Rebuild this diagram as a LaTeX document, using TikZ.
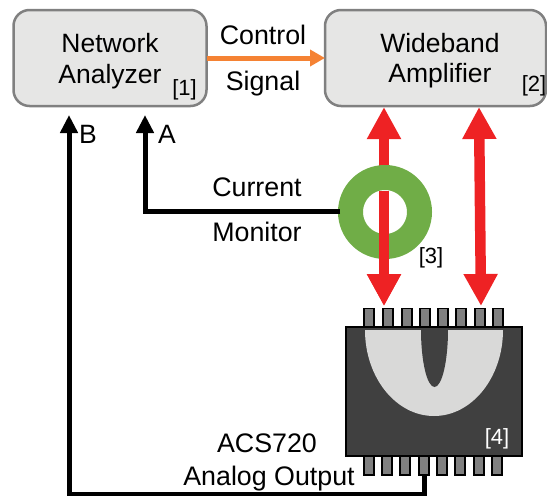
\documentclass[tikz,border=0pt]{standalone}
\usepackage{fontspec}
\setmainfont{Liberation Sans}
\usetikzlibrary{arrows.meta,calc}
\definecolor{boxfill}{HTML}{E6E6E5}
\definecolor{boxline}{HTML}{808080}
\definecolor{redarrow}{HTML}{EE2224}
\definecolor{orangearrow}{HTML}{F58233}
\definecolor{ringgreen}{HTML}{70AD47}
\definecolor{chipdark}{HTML}{404040}
\definecolor{chiplight}{HTML}{D9D9D8}
\definecolor{pingray}{HTML}{808080}
\tikzset{
  x=1pt,y=-1pt,
  box/.style={draw=boxline,fill=boxfill,line width=2.5pt,rounded corners=16pt,outer sep=0pt,inner sep=0pt},
  lbl/.style={font=\fontsize{26.5}{26.5}\selectfont,anchor=base,inner sep=0pt,outer sep=0pt},
  lblb/.style={font=\fontsize{26.8}{26.8}\selectfont,anchor=base,inner sep=0pt,outer sep=0pt},
  tag/.style={font=\fontsize{22}{22}\selectfont,anchor=base,inner sep=0pt,outer sep=0pt},
  blackarrow/.style={draw=black,line width=5pt,-{Triangle[length=18pt,width=17pt]}},
  blackline/.style={draw=black,line width=5pt},
  redline/.style={draw=redarrow,line width=10.5pt,{Triangle[length=32pt,width=32pt]}-{Triangle[length=32pt,width=32pt]}},
  redlow/.style={draw=redarrow,line width=10.5pt,-{Triangle[length=32pt,width=32pt]}},
  orangeline/.style={draw=orangearrow,line width=5pt,-{Triangle[length=15pt,width=16pt]}},
  ring/.style={circle,draw=ringgreen,line width=25pt,fill=white,minimum size=69pt,inner sep=0pt,outer sep=12.5pt},
  pin/.style={draw=black,fill=pingray,line width=1.5pt,minimum width=10pt,minimum height=19pt,inner sep=0pt,outer sep=0pt},
  chip/.style={draw=black,fill=chipdark,line width=2.5pt,minimum width=176pt,minimum height=129pt,inner sep=0pt,outer sep=0pt},
}
\begin{document}
\begin{tikzpicture}
\useasboundingbox (0,0) rectangle (547,496);
% boxes
\node[box,minimum width=193pt,minimum height=96pt] (na) at (110,58) {};
\node[box,minimum width=221pt,minimum height=96pt] (wa) at (435.5,58) {};
\node[lbl] (t1) at (110,52) {Network};
\node[lbl] (t2) at (110,83) {Analyzer};
\node[tag] (t3) at (184.5,95) {[1]};
\node[lbl] (t4) at (440,52) {Wideband};
\node[lbl] (t5) at (440,82) {Amplifier};
\node[tag] (t6) at (534,91) {[2]};
% control
\draw[orangeline] (na.east) -- (wa.west);
\node[lblb] (t7) at (263,44) {Control};
\node[lblb] (t8) at (263,90) {Signal};
% chip pins
\foreach \i/\x in {1/369,2/388,3/407,4/425,5/443,6/461,7/480,8/498}
  \node[pin] (pt\i) at (\x,318) {};
\foreach \i/\x in {1/369,2/387,3/405,4/424,5/442,6/460,7/479,8/497}
  \node[pin] (pb\i) at (\x,465.5) {};
\node[chip] (ic) at (434,391.5) {};
\fill[chiplight] (365,330) .. controls (365,377.5) and (396,416) .. (434,416) .. controls (472,416) and (503,377.5) .. (503,330) -- cycle;
\fill[chipdark] (421,330) .. controls (421,361) and (427,387) .. (434.5,387) .. controls (442,387) and (448,361) .. (448,330) -- cycle;
\node[tag,text=white] (t9) at (497,444) {[4]};
% red arrows
\coordinate (r1t) at (384,107);
\coordinate (r1b) at (384,306);
\coordinate (r1m) at (384,191);
\coordinate (r2t) at (479,107);
\coordinate (r2b) at (481,306);
\draw[redline] (r1t) -- (r1b);
\draw[redline] (r2t) -- (r2b);
\node[ring] (cm) at (385,212) {};
\draw[redlow] (r1m) -- (r1b);
\node[tag] (t10) at (431,263) {[3]};
% black signals
\coordinate (aup) at (145,115);
\coordinate (acor) at (145,211);
\coordinate (bup) at (69,115);
\coordinate (bcor) at (69,494);
\coordinate (ccor) at (424,494);
\draw[blackline,line cap=butt] ($(cm.center)+(-45,-1)$) -- ($(acor)+(-2.5,0)$);
\draw[blackarrow] (acor) -- (aup);
\draw[blackline] (pb4.south) -- ($(ccor)+(0,2.5)$);
\draw[blackline] (ccor) -- ($(bcor)+(-2.5,0)$);
\draw[blackarrow] (bcor) -- (bup);
\node[lbl] (t11) at (88,143) {B};
\node[lbl] (t12) at (167,143) {A};
\node[lblb] (t13) at (257,196) {Current};
\node[lblb] (t14) at (257,241) {Monitor};
\node[lblb] (t15) at (267,452) {ACS720};
\node[lblb] (t16) at (269,485) {Analog Output};
\end{tikzpicture}
\end{document}
